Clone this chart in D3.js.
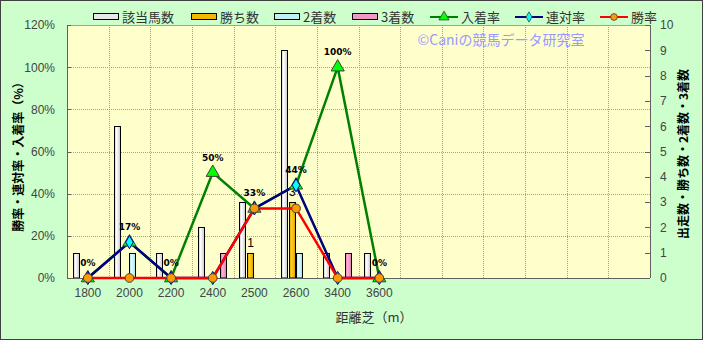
<!DOCTYPE html>
<html>
<head>
<meta charset="utf-8">
<script src="https://cdn.jsdelivr.net/npm/d3@7"></script>
<style>
  body { margin: 0; background: #fff; }
  svg { display: block; font-family: "Noto Sans CJK JP", "Noto Sans", sans-serif; }
</style>
</head>
<body>
<div id="chart"></div>
<script>
// data
const categories = ["1800", "2000", "2200", "2400", "2500", "2600", "3400", "3600"];
const slotCount = 14; // empty slots on the right
const runners = [1, 6, 1, 2, 3, 9, 1, 1];     // 該当馬数
const wins = [0, 0, 0, 0, 1, 3, 0, 0];        // 勝ち数
const seconds = [0, 1, 0, 0, 0, 1, 0, 0];     // 2着数
const thirds = [0, 0, 0, 1, 0, 0, 1, 0];      // 3着数
const placeRate = [0, 17, 0, 50, 33, 44, 100, 0];  // 入着率
const quinellaRate = [0, 17, 0, 0, 33, 44, 0, 0];  // 連対率
const winRate = [0, 0, 0, 0, 33, 33, 0, 0];        // 勝率
const leftTicks = [0, 20, 40, 60, 80, 100, 120];
const rightTicks = d3.range(0, 11);

const W = 703, H = 340;
const margin = {top: 25, right: 53, bottom: 62, left: 67};
const width = W - margin.left - margin.right,
      height = H - margin.top - margin.bottom;

const svg = d3.select("#chart").append("svg")
  .attr("width", W).attr("height", H);

// gradients for the bars
const defs = svg.append("defs");
function grad(id, light, dark) {
  const g = defs.append("linearGradient").attr("id", id)
    .attr("x1", "0%").attr("x2", "100%").attr("y1", "0%").attr("y2", "0%");
  g.append("stop").attr("offset", "0%").attr("stop-color", dark);
  g.append("stop").attr("offset", "35%").attr("stop-color", light);
  g.append("stop").attr("offset", "100%").attr("stop-color", dark);
}
grad("gRun", "#ffffff", "#c8c8c8");
grad("gWin", "#ffd21a", "#d9a000");
grad("gSec", "#e0ffff", "#a8e0e8");
grad("gThr", "#ffb0d8", "#e080b0");

// outer background
svg.append("rect").attr("x", 0.5).attr("y", 0.5)
  .attr("width", W - 1).attr("height", H - 1)
  .attr("fill", "#ccffcc").attr("stroke", "#404040");

const g = svg.append("g").attr("transform", `translate(${margin.left},${margin.top})`);

g.append("rect").attr("width", width).attr("height", height).attr("fill", "#ffffcc");

const x = d3.scaleBand().domain(d3.range(slotCount)).range([0, width]).paddingInner(0.28).paddingOuter(0.14);
const xStep = x.step();
const xc = i => x(i) + x.bandwidth() / 2;
const yL = d3.scaleLinear().domain([0, 120]).range([height, 0]);
const yR = d3.scaleLinear().domain([0, 10]).range([height, 0]);

// grid
g.append("g").selectAll("line").data(leftTicks.slice(1)).enter().append("line")
  .attr("x1", 0).attr("x2", width)
  .attr("y1", d => Math.round(yL(d)) + 0.5).attr("y2", d => Math.round(yL(d)) + 0.5)
  .attr("stroke", "#a0a0a0").attr("stroke-dasharray", "1,1");
g.append("g").selectAll("line").data(d3.range(1, slotCount)).enter().append("line")
  .attr("x1", d => Math.round(d * xStep) + 0.5).attr("x2", d => Math.round(d * xStep) + 0.5)
  .attr("y1", 0).attr("y2", height)
  .attr("stroke", "#a0a0a0").attr("stroke-dasharray", "1,1");

// bars
const barSeries = [
  {name: "該当馬数", values: runners, fill: "url(#gRun)", solid: "#e8e8e8"},
  {name: "勝ち数", values: wins, fill: "url(#gWin)", solid: "#f0b800"},
  {name: "2着数", values: seconds, fill: "url(#gSec)", solid: "#c0f0f8"},
  {name: "3着数", values: thirds, fill: "url(#gThr)", solid: "#f098c8"}
];
const xs = d3.scaleBand().domain(d3.range(barSeries.length)).range([0, x.bandwidth()]);

barSeries.forEach((s, k) => {
  const data = s.values.map((v, i) => ({v, i})).filter(d => d.v > 0);
  g.append("g").selectAll("rect").data(data).enter().append("rect")
    .attr("x", d => Math.round(x(d.i) + xs(k)) + 0.5)
    .attr("y", d => Math.round(yR(d.v)) + 0.5)
    .attr("width", Math.round(xs.bandwidth()) - 1)
    .attr("height", d => height - Math.round(yR(d.v)) - 0.5)
    .attr("fill", s.fill).attr("stroke", "#000").attr("stroke-width", 1);
});

// win count labels
g.append("g").selectAll("text").data(wins.map((v, i) => ({v, i})).filter(d => d.v > 0)).enter()
  .append("text")
  .attr("x", d => x(d.i) + xs(1) + xs.bandwidth() / 2)
  .attr("y", d => yR(d.v) - 6)
  .attr("text-anchor", "middle").attr("font-size", 12).attr("fill", "#000")
  .attr("font-family", "Liberation Sans, sans-serif")
  .text(d => d.v);

// axes
g.append("line").attr("x1", 0.5).attr("x2", 0.5).attr("y1", 0).attr("y2", height).attr("stroke", "#606060");
g.append("line").attr("x1", width + 0.5).attr("x2", width + 0.5).attr("y1", 0).attr("y2", height).attr("stroke", "#606060");
g.append("line").attr("x1", 0).attr("x2", width).attr("y1", height + 0.5).attr("y2", height + 0.5).attr("stroke", "#606060");
g.append("line").attr("x1", 0).attr("x2", width).attr("y1", 0.5).attr("y2", 0.5).attr("stroke", "#a0a0a0");

const axL = g.append("g").call(d3.axisLeft(yL).tickValues(leftTicks).tickFormat(d => d + "%").tickSize(0).tickPadding(12));
axL.select(".domain").remove();
axL.selectAll("text").attr("font-size", 12).attr("fill", "#444").attr("font-family", "Liberation Sans, sans-serif");
g.append("g").selectAll("line").data(leftTicks).enter().append("line")
  .attr("x1", 0).attr("x2", 4)
  .attr("y1", d => Math.round(yL(d)) + 0.5).attr("y2", d => Math.round(yL(d)) + 0.5).attr("stroke", "#606060");

const axR = g.append("g").attr("transform", `translate(${width},0)`)
  .call(d3.axisRight(yR).tickValues(rightTicks).tickSize(0).tickPadding(10));
axR.select(".domain").remove();
axR.selectAll("text").attr("font-size", 12).attr("fill", "#444").attr("font-family", "Liberation Sans, sans-serif");
g.append("g").selectAll("line").data(rightTicks).enter().append("line")
  .attr("x1", width - 5).attr("x2", width)
  .attr("y1", d => Math.round(yR(d)) + 0.5).attr("y2", d => Math.round(yR(d)) + 0.5).attr("stroke", "#606060");

const axB = g.append("g").attr("transform", `translate(0,${height})`)
  .call(d3.axisBottom(x).tickSize(0).tickPadding(10).tickFormat(i => categories[i] || ""));
axB.select(".domain").remove();
axB.selectAll("text").attr("font-size", 12).attr("fill", "#444").attr("font-family", "Liberation Sans, sans-serif");

// watermark
g.append("text").attr("x", 501 - margin.left).attr("y", 20)
  .attr("text-anchor", "middle").attr("font-size", 14).attr("fill", "#9999ff")
  .text("©Caniの競馬データ研究室");

// lines
const lineSeries = [
  {name: "入着率", values: placeRate, color: "#008000", marker: "triangle", mfill: "#00ff00"},
  {name: "連対率", values: quinellaRate, color: "#000080", marker: "diamond", mfill: "#00ffff"},
  {name: "勝率", values: winRate, color: "#ff0000", marker: "circle", mfill: "#ff9900"}
];
const symbolType = {triangle: d3.symbolTriangle, diamond: d3.symbolDiamond, circle: d3.symbolCircle};
const symbolSize = {triangle: 75, diamond: 50, circle: 60};
const line = d3.line().x((d, i) => xc(i)).y(d => yL(d));

lineSeries.forEach(s => {
  g.append("path").datum(s.values).attr("d", line)
    .attr("fill", "none").attr("stroke", s.color).attr("stroke-width", 2.5);
});
lineSeries.forEach(s => {
  g.append("g").selectAll("path").data(s.values).enter().append("path")
    .attr("transform", (d, i) => `translate(${xc(i)},${yL(d)})`)
    .attr("d", d3.symbol().type(symbolType[s.marker]).size(symbolSize[s.marker]))
    .attr("fill", s.mfill).attr("stroke", s.marker === "diamond" ? "#000080" : "#404040").attr("stroke-width", 1);
});

// rate labels
g.append("g").selectAll("text").data(placeRate).enter().append("text")
  .attr("x", (d, i) => xc(i))
  .attr("y", d => yL(d) - 12)
  .attr("text-anchor", "middle").attr("font-size", 9).attr("font-weight", "bold")
  .attr("font-family", "DejaVu Sans, sans-serif").attr("fill", "#000")
  .text(d => d + "%");

// axis titles
svg.append("text").attr("transform", `translate(23,154) rotate(-90)`)
  .attr("text-anchor", "middle").attr("font-size", 12).attr("font-weight", "bold").attr("fill", "#000")
  .text("勝率・連対率・入着率（%）");
svg.append("text").attr("transform", `translate(688,154) rotate(-90)`)
  .attr("text-anchor", "middle").attr("font-size", 12).attr("font-weight", "bold").attr("fill", "#000")
  .text("出走数・勝ち数・2着数・3着数");
svg.append("text").attr("x", 374).attr("y", 322)
  .attr("text-anchor", "middle").attr("font-size", 13).attr("fill", "#333")
  .text("距離芝（m）");

// legend
const legendX = [93, 191, 274, 352, 430, 515, 600];
const ly = 17;
const leg = svg.append("g");
barSeries.forEach((s, k) => {
  leg.append("rect").attr("x", legendX[k] + 0.5).attr("y", ly - 3.5).attr("width", 25).attr("height", 6)
    .attr("fill", s.solid).attr("stroke", "#000");
  leg.append("text").attr("x", legendX[k] + 29).attr("y", ly + 5).attr("font-size", 13).attr("fill", "#333").text(s.name);
});
lineSeries.forEach((s, k) => {
  const lx = legendX[k + 4];
  leg.append("line").attr("x1", lx).attr("x2", lx + 28).attr("y1", ly).attr("y2", ly)
    .attr("stroke", s.color).attr("stroke-width", 2);
  leg.append("path").attr("transform", `translate(${lx + 14},${ly})`)
    .attr("d", d3.symbol().type(symbolType[s.marker]).size(symbolSize[s.marker] * 0.6))
    .attr("fill", s.mfill).attr("stroke", "#404040").attr("stroke-width", 0.8);
  leg.append("text").attr("x", lx + 31).attr("y", ly + 5).attr("font-size", 13).attr("fill", "#333").text(s.name);
});
</script>
</body>
</html>
